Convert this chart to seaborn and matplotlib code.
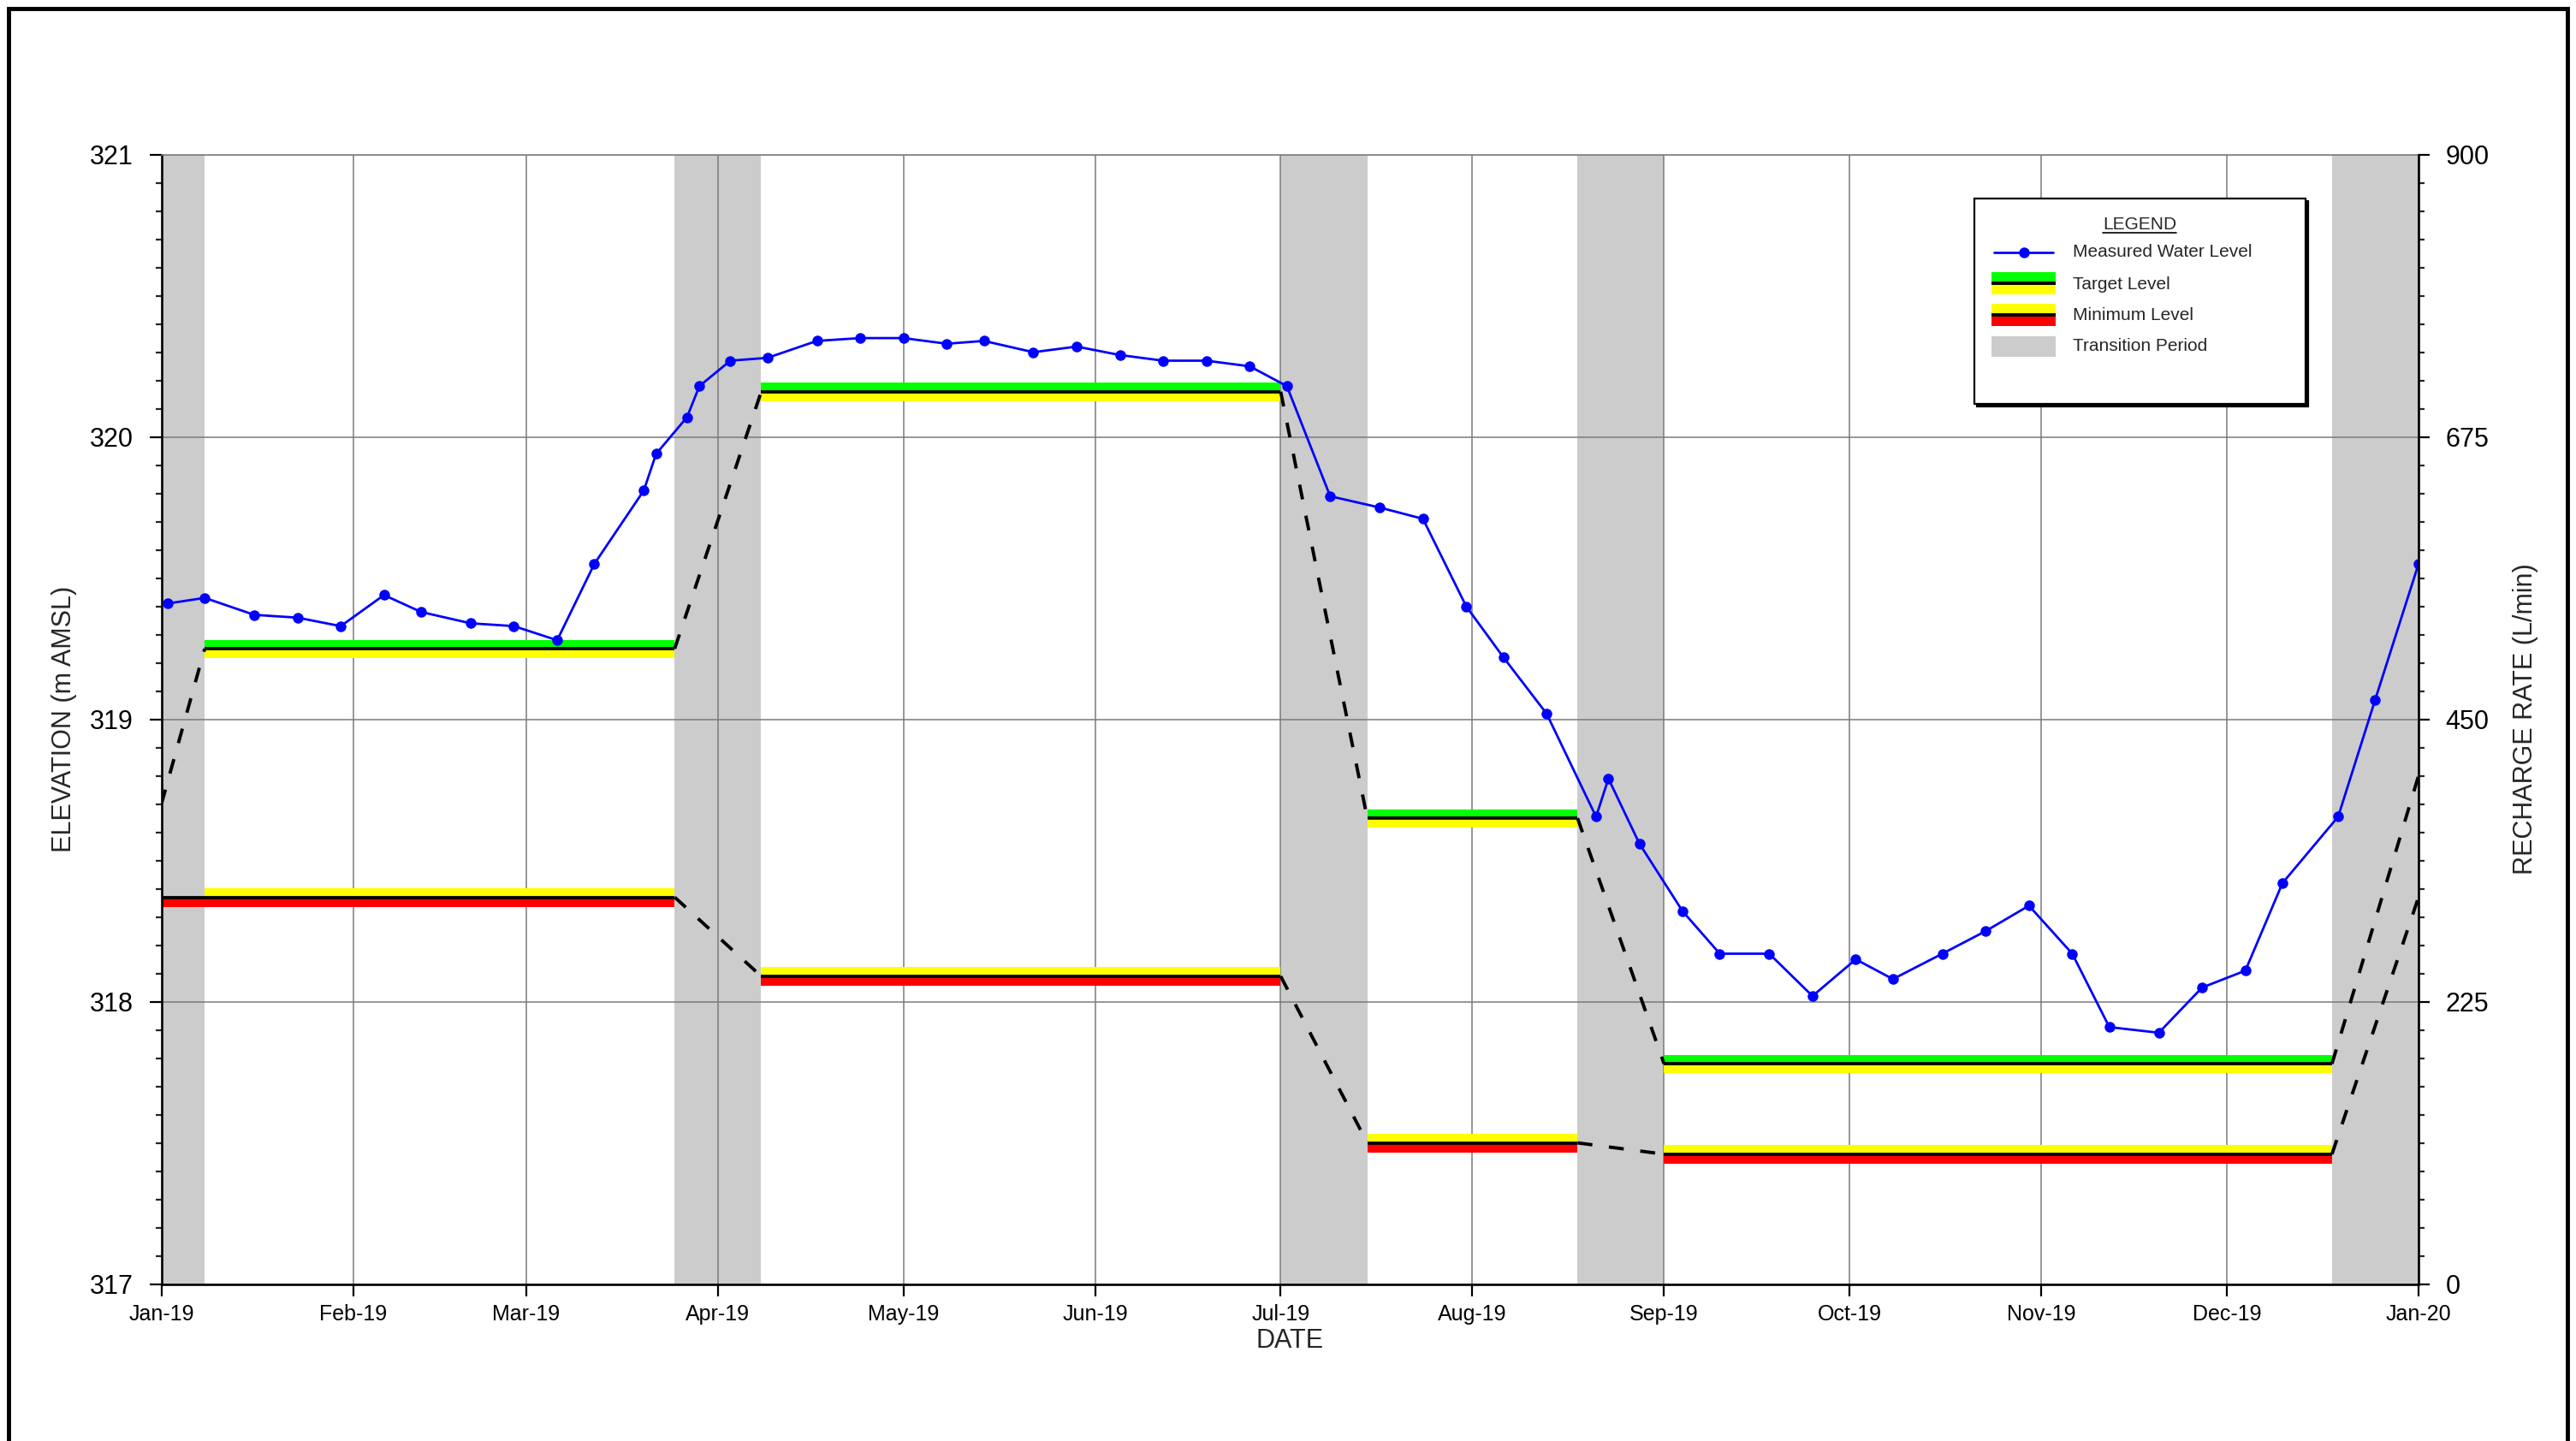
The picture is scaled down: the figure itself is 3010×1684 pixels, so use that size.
import matplotlib
matplotlib.use('Agg')
import matplotlib.pyplot as plt
import matplotlib.dates as mdates
from matplotlib.patches import Rectangle
from matplotlib.lines import Line2D
from matplotlib.ticker import MultipleLocator, FixedLocator
import seaborn as sns
import pandas as pd

# ---------------- data ----------------
meas_dates = ['2019-01-02', '2019-01-08', '2019-01-16', '2019-01-23', '2019-01-30',
              '2019-02-06', '2019-02-12', '2019-02-20', '2019-02-27', '2019-03-06',
              '2019-03-12', '2019-03-20', '2019-03-22', '2019-03-27', '2019-03-29',
              '2019-04-03', '2019-04-09', '2019-04-17', '2019-04-24', '2019-05-01',
              '2019-05-08', '2019-05-14', '2019-05-22', '2019-05-29', '2019-06-05',
              '2019-06-12', '2019-06-19', '2019-06-26', '2019-07-02', '2019-07-09',
              '2019-07-17', '2019-07-24', '2019-07-31', '2019-08-06', '2019-08-13',
              '2019-08-21', '2019-08-23', '2019-08-28', '2019-09-04', '2019-09-10',
              '2019-09-18', '2019-09-25', '2019-10-02', '2019-10-08', '2019-10-16',
              '2019-10-23', '2019-10-30', '2019-11-06', '2019-11-12', '2019-11-20',
              '2019-11-27', '2019-12-04', '2019-12-10', '2019-12-19', '2019-12-25',
              '2020-01-01']
meas_levels = [319.41, 319.43, 319.37, 319.36, 319.33,
               319.44, 319.38, 319.34, 319.33, 319.28,
               319.55, 319.81, 319.94, 320.07, 320.18,
               320.27, 320.28, 320.34, 320.35, 320.35,
               320.33, 320.34, 320.30, 320.32, 320.29,
               320.27, 320.27, 320.25, 320.18, 319.79,
               319.75, 319.71, 319.40, 319.22, 319.02,
               318.655, 318.79, 318.56, 318.32, 318.17,
               318.17, 318.02, 318.15, 318.08, 318.17,
               318.25, 318.34, 318.17, 317.91, 317.89,
               318.05, 318.11, 318.42, 318.655, 319.07,
               319.55]

period_start = ['2019-01-08', '2019-04-08', '2019-07-15', '2019-09-01']
period_end = ['2019-03-25', '2019-07-01', '2019-08-18', '2019-12-18']
target_levels = [319.25, 320.16, 318.65, 317.78]
minimum_levels = [318.37, 318.09, 317.50, 317.46]
minimum_band_start = ['2019-01-01', '2019-04-08', '2019-07-15', '2019-09-01']
target_initial, target_final = 318.70, 318.80
minimum_initial, minimum_final = 318.37, 318.37

transition_start = ['2019-01-01', '2019-03-25', '2019-07-01', '2019-08-18', '2019-12-18']
transition_end = ['2019-01-08', '2019-04-08', '2019-07-15', '2019-09-01', '2020-01-01']

month_ticks = pd.date_range('2019-01-01', '2020-01-01', freq='MS')
left_ticks = [317, 318, 319, 320, 321]
right_ticks = [0, 225, 450, 675, 900]

legend_labels = ['Measured Water Level', 'Target Level', 'Minimum Level', 'Transition Period']

# ---------------- style ----------------
sns.set_theme(style='white')
plt.rcParams['font.family'] = ['Liberation Sans', 'DejaVu Sans']

W, H = 3010, 1684
fig = plt.figure(figsize=(W / 100, H / 100), dpi=100)
ax_l, ax_r, ax_t, ax_b = 188.6, 2826.0, 180.6, 1500.6
ax = fig.add_axes([ax_l / W, 1 - ax_b / H, (ax_r - ax_l) / W, (ax_b - ax_t) / H])
ax_wpx, ax_hpx = ax_r - ax_l, ax_b - ax_t

GREEN, YELLOW, RED, GRAY, BLUE = '#00ff00', '#ffff00', '#ff0000', '#cccccc', '#0000ff'
band_up, band_dn = 0.032, 0.034

ps = pd.to_datetime(period_start)
pe = pd.to_datetime(period_end)
mbs = pd.to_datetime(minimum_band_start)
ts = pd.to_datetime(transition_start)
te = pd.to_datetime(transition_end)

# transition periods
for s, e in zip(ts, te):
    ax.axvspan(s, e, color=GRAY, lw=0, zorder=0.1)

# target / minimum bands
for i in range(len(ps)):
    T, M = target_levels[i], minimum_levels[i]
    ax.fill_between([ps[i], pe[i]], [T, T], [T + band_up] * 2, color=GREEN, lw=0, zorder=2)
    ax.fill_between([ps[i], pe[i]], [T - band_dn] * 2, [T, T], color=YELLOW, lw=0, zorder=2)
    ax.fill_between([ps[i], pe[i]], [M, M], [M + band_up] * 2, color=YELLOW, lw=0, zorder=2)
    ax.fill_between([mbs[i], pe[i]], [M - band_dn] * 2, [M, M], color=RED, lw=0, zorder=2)
    ax.plot([ps[i], pe[i]], [T, T], color='black', lw=2.7, zorder=3, solid_capstyle='butt')
    ax.plot([mbs[i], pe[i]], [M, M], color='black', lw=2.7, zorder=3, solid_capstyle='butt')

# dashed transitions
tseq = [target_initial] + target_levels + [target_final]
mseq = [minimum_initial] + minimum_levels + [minimum_final]
for i in range(len(ts)):
    for seq in (tseq, mseq):
        if seq[i] == seq[i + 1]:
            continue
        ax.plot([ts[i], te[i]], [seq[i], seq[i + 1]], color='black', lw=2.8,
                ls=(0, (4.5, 5)), zorder=3, dash_capstyle='butt')

# measured water level
df = pd.DataFrame({'date': pd.to_datetime(meas_dates), 'level': meas_levels})
sns.lineplot(data=df, x='date', y='level', ax=ax, color=BLUE, lw=2.0, marker='o',
             markersize=9, markeredgewidth=0, zorder=5, legend=False)

# axes
ax.set_xlim(pd.Timestamp('2019-01-01'), pd.Timestamp('2020-01-01'))
ax.set_ylim(317, 321)
ax.xaxis.set_major_locator(FixedLocator(mdates.date2num(month_ticks)))
ax.xaxis.set_major_formatter(mdates.DateFormatter('%b-%y'))
ax.yaxis.set_major_locator(FixedLocator(left_ticks))
ax.yaxis.set_minor_locator(MultipleLocator(0.1))
ax.grid(True, which='major', color='#7a7a7a', lw=1.1)
ax.set_axisbelow(True)
for sp in ['left', 'bottom']:
    ax.spines[sp].set_color('black')
    ax.spines[sp].set_linewidth(1.9)
ax.spines['top'].set_color('#7a7a7a')
ax.spines['top'].set_linewidth(1.1)
ax.spines['right'].set_visible(False)
ax.tick_params(axis='y', which='major', direction='out', length=10, width=1.6,
               labelsize=22, pad=13.5, colors='black', left=True)
ax.tick_params(axis='y', which='minor', direction='out', length=5, width=1.6, left=True)
ax.tick_params(axis='x', which='major', direction='out', length=10, width=1.6,
               labelsize=18, pad=6.5, colors='black', bottom=True)
ax.set_xlabel('DATE', fontsize=22)
ax.set_ylabel('ELEVATION (m AMSL)', fontsize=22)
ax.xaxis.label.set_va('center')
ax.yaxis.label.set_va('center')
ax.xaxis.set_label_coords(0.5, (ax_b - 1567) / ax_hpx)
ax.yaxis.set_label_coords((75 - ax_l) / ax_wpx, 0.5)

ax2 = ax.twinx()
ax2.set_ylim(0, 900)
ax2.yaxis.set_major_locator(FixedLocator(right_ticks))
ax2.yaxis.set_minor_locator(MultipleLocator(22.5))
for sp in ['left', 'top', 'bottom']:
    ax2.spines[sp].set_visible(False)
ax2.spines['right'].set_color('black')
ax2.spines['right'].set_linewidth(1.9)
ax2.tick_params(axis='y', which='major', direction='out', length=9.5, width=1.6,
                labelsize=22, pad=13, colors='black', right=True)
ax2.tick_params(axis='y', which='minor', direction='out', length=5, width=1.6, right=True)
ax2.set_ylabel('RECHARGE RATE (L/min)', fontsize=22)
ax2.yaxis.label.set_va('center')
ax2.yaxis.set_label_coords((2951 - ax_l) / ax_wpx, 0.5)
ax2.grid(False)

# ---------------- legend (drawn in axes coords) ----------------
def fx(px):
    return (px - ax_l) / ax_wpx

def fy(py):
    return (ax_b - py) / ax_hpx

tr = ax2.transAxes
box = Rectangle((fx(2307), fy(472)), fx(2694) - fx(2307), fy(232) - fy(472), transform=tr,
                facecolor='white', edgecolor='black', lw=1.6, zorder=20)
shadow = Rectangle((fx(2310), fy(475)), fx(2694) - fx(2307), fy(232) - fy(472), transform=tr,
                   facecolor='black', edgecolor='black', lw=1.6, zorder=19)
ax2.add_patch(shadow)
ax2.add_patch(box)
title = ax2.text(fx(2500), fy(262), 'LEGEND', transform=tr, ha='center', va='center',
                 fontsize=15, zorder=21)
row_y = [295, 332, 368, 404]
hx0, hx1 = 2327, 2402
for lbl, ry in zip(legend_labels, row_y):
    ax2.text(fx(2422), fy(ry), lbl, transform=tr, ha='left', va='center', fontsize=15, zorder=21)
# measured handle
ax2.add_line(Line2D([fx(2330), fx(2399)], [fy(295), fy(295)], transform=tr, color=BLUE, lw=2.0, zorder=21))
ax2.add_line(Line2D([fx(2365)], [fy(295)], transform=tr, color=BLUE, marker='o', markersize=9,
                    markeredgewidth=0, zorder=22))

def band_handle(cy, top_color, bottom_color):
    ax2.add_patch(Rectangle((fx(hx0), fy(cy)), fx(hx1) - fx(hx0), (13 / ax_hpx), transform=tr,
                            facecolor=top_color, lw=0, zorder=21))
    ax2.add_patch(Rectangle((fx(hx0), fy(cy + 13)), fx(hx1) - fx(hx0), (13 / ax_hpx), transform=tr,
                            facecolor=bottom_color, lw=0, zorder=21))
    ax2.add_line(Line2D([fx(hx0), fx(hx1)], [fy(cy), fy(cy)], transform=tr, color='black',
                        lw=2.8, zorder=22, solid_capstyle='butt'))

band_handle(331, GREEN, YELLOW)
band_handle(368, YELLOW, RED)
ax2.add_patch(Rectangle((fx(hx0), fy(417)), fx(hx1) - fx(hx0), 24 / ax_hpx, transform=tr,
                        facecolor=GRAY, lw=0, zorder=21))

# underline for legend title
fig.canvas.draw()
bb = title.get_window_extent().transformed(tr.inverted())
ax2.add_line(Line2D([bb.x0, bb.x1], [fy(272), fy(272)], transform=tr, color='black', lw=1.2, zorder=22))

# outer frame
fig.add_artist(Rectangle((10 / W, -0.05), (3000 - 10) / W, 1.05 - 10 / H, transform=fig.transFigure,
                         fill=False, edgecolor='black', lw=3.5))

fig.savefig('out.png', dpi=100)
